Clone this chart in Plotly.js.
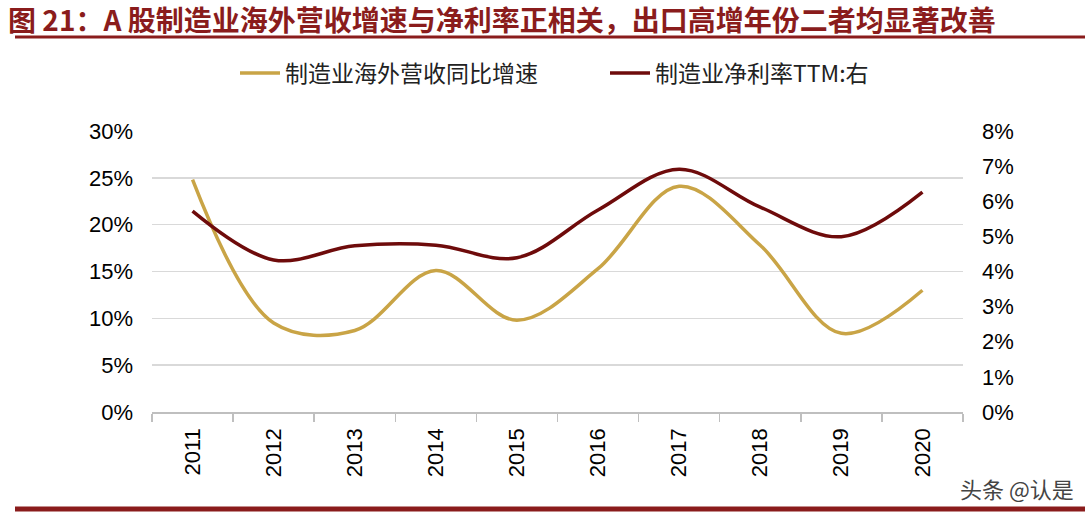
<!DOCTYPE html>
<html>
<head>
<meta charset="utf-8">
<script src="https://cdn.plot.ly/plotly-3.0.1.min.js"></script>
<style>
html,body{margin:0;padding:0;background:#fff;}
#chart{width:1090px;height:513px;}
</style>
</head>
<body>
<div id="chart"></div>
<script>
// ---- data ----
const years = ['2011','2012','2013','2014','2015','2016','2017','2018','2019','2020'];
const overseasRevenueGrowth = [0.248, 0.095, 0.087, 0.151, 0.098, 0.153, 0.241, 0.178, 0.084, 0.130];
const netMarginTTM = [0.0572, 0.0433, 0.0473, 0.0475, 0.0439, 0.0575, 0.0691, 0.0583, 0.0499, 0.0626];
const leftTickVals = [0, 0.05, 0.10, 0.15, 0.20, 0.25, 0.30];
const rightTickVals = [0, 0.01, 0.02, 0.03, 0.04, 0.05, 0.06, 0.07, 0.08];
const seriesNames = ['制造业海外营收同比增速', '制造业净利率TTM:右'];
const titleText = '图 21：A 股制造业海外营收增速与净利率正相关，出口高增年份二者均显著改善';
const watermarkText = '头条 @认是';

// ---- layout helpers ----
const W = 1090, H = 513;
const L = 152, R = 963, T = 131, B = 412;
const px = x => (x - L) / (R - L);
const py = y => (B - y) / (B - T);

const gold = '#C9A446';
const darkRed = '#6E0B0B';
const titleRed = '#8A1C1C';

const traces = [
  {
    x: years, y: overseasRevenueGrowth, name: seriesNames[0],
    type: 'scatter', mode: 'lines',
    line: {color: gold, width: 3.5, shape: 'spline', smoothing: 1},
    yaxis: 'y', hoverinfo: 'skip'
  },
  {
    x: years, y: netMarginTTM, name: seriesNames[1],
    type: 'scatter', mode: 'lines',
    line: {color: darkRed, width: 3.5, shape: 'spline', smoothing: 1},
    yaxis: 'y2', hoverinfo: 'skip'
  }
];

const tickFont = {family: 'Liberation Sans, Arial, sans-serif', size: 22, color: '#000'};

const layout = {
  width: W, height: H,
  margin: {l: L, r: W - R, t: T, b: H - B, pad: 0},
  paper_bgcolor: '#fff', plot_bgcolor: '#fff',
  showlegend: true,
  legend: {
    orientation: 'h', x: px(235), xanchor: 'left', y: py(73), yanchor: 'middle',
    font: {family: 'Noto Sans CJK SC, sans-serif', size: 23, color: '#222'},
    entrywidth: 315, entrywidthmode: 'pixels', itemwidth: 40,
    bgcolor: 'rgba(0,0,0,0)', traceorder: 'normal'
  },
  xaxis: {
    type: 'category', range: [-0.5, 9.5],
    tickson: 'boundaries', ticks: 'outside', ticklen: 8, tickwidth: 1.5, tickcolor: '#BFBFBF',
    showline: true, linecolor: '#BFBFBF', linewidth: 1.5,
    showgrid: false, zeroline: false,
    tickangle: -90, tickfont: tickFont, ticklabelstandoff: 6
  },
  yaxis: {
    range: [0, 0.30], tickvals: leftTickVals, tickformat: '.0%',
    showgrid: true, gridcolor: '#D9D9D9', gridwidth: 1.5,
    zeroline: false, showline: false, ticks: '',
    tickfont: tickFont, ticklabelstandoff: 18
  },
  yaxis2: {
    range: [0, 0.08], tickvals: rightTickVals, tickformat: '.0%',
    overlaying: 'y', side: 'right',
    showgrid: false, zeroline: false, showline: false, ticks: '',
    tickfont: tickFont, ticklabelstandoff: 18
  },
  annotations: [
    {
      text: '<b>' + titleText + '</b>', xref: 'paper', yref: 'paper',
      x: px(6), y: py(19), xanchor: 'left', yanchor: 'middle', showarrow: false,
      font: {family: 'Noto Sans CJK SC, sans-serif', size: 28, color: titleRed}
    },
    {
      text: watermarkText, xref: 'paper', yref: 'paper',
      x: px(1076), y: py(488), xanchor: 'right', yanchor: 'middle', showarrow: false,
      font: {family: 'Noto Sans CJK SC, sans-serif', size: 22, color: '#444'}
    }
  ],
  shapes: [
    {type: 'line', xref: 'paper', yref: 'paper', x0: px(15), x1: px(1085), y0: py(37), y1: py(37),
     line: {color: titleRed, width: 3}},
    {type: 'line', xref: 'paper', yref: 'paper', x0: px(15), x1: px(1085), y0: py(509), y1: py(509),
     line: {color: titleRed, width: 5}}
  ]
};

Plotly.newPlot('chart', traces, layout, {displayModeBar: false, staticPlot: true});
</script>
</body>
</html>
